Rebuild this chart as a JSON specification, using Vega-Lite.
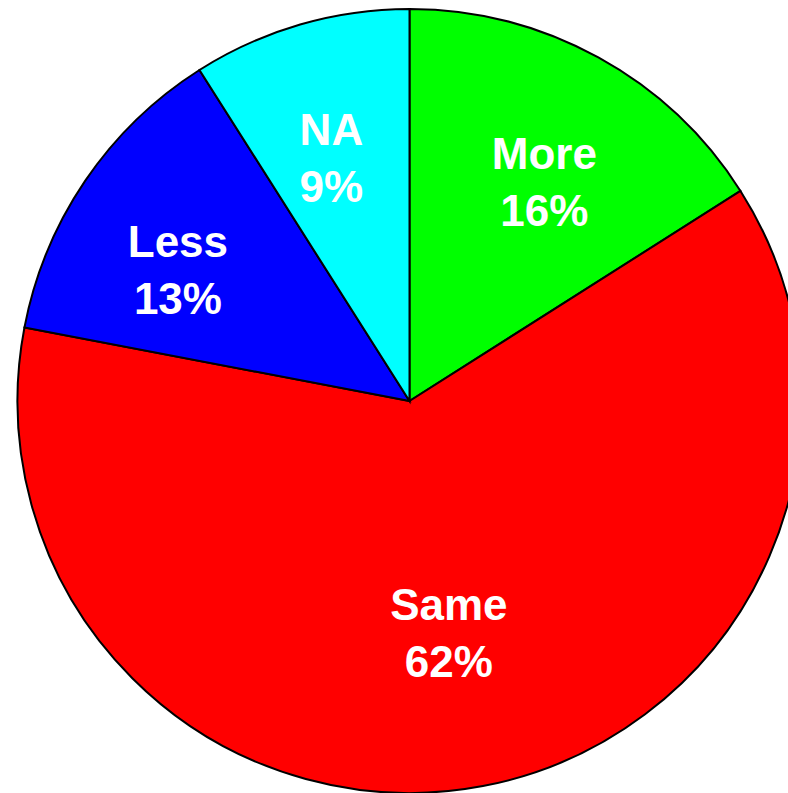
{
  "$schema": "https://vega.github.io/schema/vega-lite/v6.json",
  "autosize": "none",
  "padding": 0,
  "width": 819,
  "height": 802,
  "background": "white",
  "data": {
    "values": [
      {"category": "More", "pct": 16, "order": 1},
      {"category": "Same", "pct": 62, "order": 2},
      {"category": "Less", "pct": 13, "order": 3},
      {"category": "NA", "pct": 9, "order": 4}
    ]
  },
  "transform": [
    {"calculate": "datum.category + '\\n' + datum.pct + '%'", "as": "label"},
    {"stack": "pct", "groupby": [], "sort": [{"field": "order"}], "as": ["start", "end"]},
    {"calculate": "(datum.start + datum.end) / 2", "as": "mid"}
  ],
  "layer": [
    {
      "mark": {"type": "arc", "outerRadius": 392, "stroke": "black", "strokeWidth": 2},
      "encoding": {
        "theta": {"field": "start", "type": "quantitative", "scale": {"domain": [0, 100]}},
        "theta2": {"field": "end"},
        "color": {
          "field": "category",
          "type": "nominal",
          "scale": {
            "domain": ["More", "Same", "Less", "NA"],
            "range": ["#00FF00", "#FF0000", "#0000FF", "#00FFFF"]
          },
          "legend": null
        }
      }
    },
    {
      "transform": [{"filter": "datum.category !== 'Same'"}],
      "mark": {
        "type": "text",
        "radius": 280,
        "font": "Liberation Sans",
        "fontSize": 44,
        "fontWeight": "bold",
        "lineHeight": 57,
        "lineBreak": "\n",
        "color": "white",
        "align": "center",
        "baseline": "middle"
      },
      "encoding": {
        "theta": {"field": "mid", "type": "quantitative", "scale": {"domain": [0, 100]}},
        "text": {"field": "label", "type": "nominal"}
      }
    },
    {
      "transform": [{"filter": "datum.category === 'Same'"}],
      "mark": {
        "type": "text",
        "radius": 210,
        "font": "Liberation Sans",
        "fontSize": 44,
        "fontWeight": "bold",
        "lineHeight": 57,
        "lineBreak": "\n",
        "color": "white",
        "align": "center",
        "baseline": "middle"
      },
      "encoding": {
        "theta": {"field": "mid", "type": "quantitative", "scale": {"domain": [0, 100]}},
        "text": {"field": "label", "type": "nominal"}
      }
    }
  ],
  "config": {"view": {"stroke": null}}
}
